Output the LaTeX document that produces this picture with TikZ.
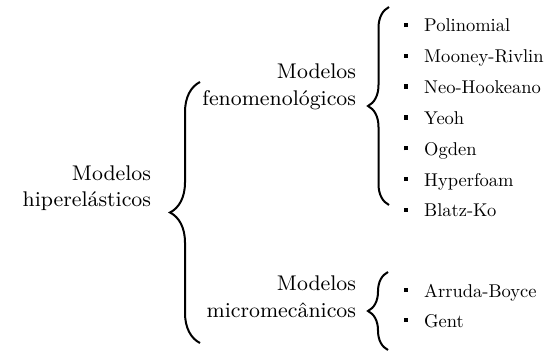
\documentclass[tikz,border=0pt]{standalone}
\usetikzlibrary{decorations.pathreplacing}

\newcommand{\itm}[1]{\scalebox{0.74}{\rule[2.6pt]{2.4pt}{2.4pt}\hspace{8.5pt}#1}}

\begin{document}
\begin{tikzpicture}[x=0.4pt, y=-0.4pt, thick,
    lbl/.style={align=right, anchor=base east, inner sep=0pt, font=\fontsize{8.5}{10.5}\selectfont},
    item/.style={anchor=base west, inner sep=0pt, font=\fontsize{10}{12}\selectfont},
    brc/.style={decorate, decoration={brace, amplitude=#1}}]
    \useasboundingbox (0,0) rectangle (548,353);
    % labels
    \node[lbl] (hip) at (152,207) {Modelos\\hiperelásticos};
    \node[lbl] (fen) at (357,105) {Modelos\\fenomenológicos};
    \node[lbl] (mic) at (357,317) {Modelos\\micromecânicos};
    % braces
    \coordinate (A1) at (200,343); \coordinate (A2) at (200,82);
    \coordinate (B1) at (389,205); \coordinate (B2) at (389,7);
    \coordinate (C1) at (388,350); \coordinate (C2) at (388,272);
    \draw[brc=12pt] (A1) -- (A2);
    \draw[brc=8.4pt] (B1) -- (B2);
    \draw[brc=8pt] (C1) -- (C2);
    % items
    \foreach \t [count=\i] in {Polinomial, Mooney-Rivlin, Neo-Hookeano, Yeoh, Ogden, Hyperfoam, Blatz-Ko}
        \node[item] (f\i) at (403,{32+30.8*(\i-1)}) {\itm{\t}};
    \node[item] (m1) at (403,297) {\itm{Arruda-Boyce}};
    \node[item] (m2) at (403,327) {\itm{Gent}};
\end{tikzpicture}
\end{document}
